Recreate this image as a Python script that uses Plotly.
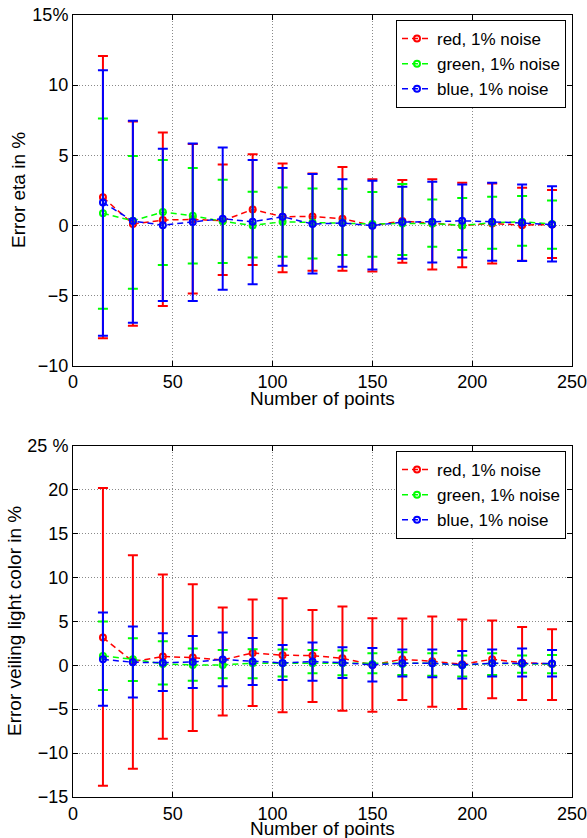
import plotly.graph_objects as go

x_pts = [15, 30, 45, 60, 75, 90, 105, 120, 135, 150, 165, 180, 195, 210, 225, 240]

# Top panel: error eta (%)
eta_red_mean = [2.0, 0.1, 0.38, 0.43, 0.33, 1.14, 0.62, 0.64, 0.48, 0.0, 0.31, 0.14, 0.0, 0.14, 0.02, 0.07]
eta_red_up = [12.07, 7.41, 6.63, 5.8, 4.35, 5.08, 4.42, 3.7, 4.16, 3.3, 3.23, 3.3, 3.04, 2.99, 2.68, 2.52]
eta_red_lo = [-8.05, -7.15, -5.75, -4.85, -3.54, -2.83, -3.33, -3.23, -3.23, -3.28, -2.66, -3.14, -2.99, -2.71, -2.52, -2.33]

eta_green_mean = [0.86, 0.33, 0.95, 0.69, 0.29, 0.0, 0.26, 0.2, 0.19, 0.1, 0.14, 0.14, 0.0, 0.19, 0.26, 0.1]
eta_green_up = [7.62, 4.94, 4.66, 4.09, 3.25, 2.4, 2.7, 2.64, 2.61, 2.38, 2.95, 1.85, 1.95, 2.04, 2.09, 1.78]
eta_green_lo = [-5.94, -4.51, -2.83, -2.71, -2.68, -2.28, -2.23, -2.35, -2.11, -2.23, -2.11, -1.52, -1.76, -1.66, -1.45, -1.66]

eta_blue_mean = [1.64, 0.31, 0.02, 0.24, 0.48, 0.26, 0.62, 0.1, 0.17, -0.02, 0.24, 0.26, 0.33, 0.26, 0.19, 0.07]
eta_blue_up = [11.07, 7.46, 5.46, 5.84, 5.56, 4.66, 4.1, 3.66, 3.3, 3.18, 2.76, 3.11, 2.92, 3.04, 2.92, 2.8]
eta_blue_lo = [-7.86, -6.94, -5.39, -5.39, -4.58, -4.2, -2.87, -3.42, -2.95, -3.14, -2.38, -2.64, -2.28, -2.52, -2.54, -2.57]

# Bottom panel: error veiling light color (%)
vl_red_mean = [3.15, 0.42, 0.99, 0.87, 0.61, 1.4, 1.14, 1.1, 0.8, 0.04, 0.68, 0.46, 0.11, 0.68, 0.3, 0.15]
vl_red_up = [20.17, 12.53, 10.33, 9.23, 6.57, 7.48, 7.63, 6.3, 6.68, 5.36, 5.32, 5.55, 5.2, 5.09, 4.37, 4.1]
vl_red_lo = [-13.71, -11.77, -8.36, -7.48, -5.73, -4.63, -5.36, -4.18, -5.17, -5.28, -3.95, -4.71, -4.98, -3.76, -3.95, -3.95]

vl_green_mean = [1.06, 0.68, 0.15, 0.04, 0.04, 0.23, 0.23, 0.23, 0.23, 0.15, 0.15, 0.23, 0.0, 0.23, 0.15, 0.15]
vl_green_up = [4.98, 3.08, 2.73, 1.9, 1.75, 1.82, 1.79, 1.75, 1.67, 1.37, 1.48, 1.37, 1.1, 1.37, 1.1, 1.18]
vl_green_lo = [-2.81, -1.79, -2.2, -1.75, -1.48, -1.48, -1.29, -0.91, -1.14, -0.91, -1.1, -1.18, -1.29, -1.1, -0.84, -0.91]

vl_blue_mean = [0.68, 0.34, 0.3, 0.38, 0.65, 0.42, 0.27, 0.42, 0.3, 0.04, 0.23, 0.23, 0.04, 0.23, 0.23, 0.19]
vl_blue_up = [6.0, 4.41, 3.65, 3.34, 3.72, 3.11, 2.32, 2.58, 2.05, 1.97, 1.79, 1.79, 1.63, 1.79, 1.9, 1.75]
vl_blue_lo = [-4.6, -3.68, -2.92, -2.58, -2.39, -2.24, -1.67, -1.75, -1.44, -1.86, -1.29, -1.37, -1.52, -1.29, -1.29, -1.29]

series_names = ["red, 1% noise", "green, 1% noise", "blue, 1% noise"]
colors = ["#FF0000", "#00FF00", "#0000FF"]

top_yticks = [-10, -5, 0, 5, 10, 15]
top_yticktext = ["\u221210", "\u22125", "0", "5", "10", "15%"]
bot_yticks = [-15, -10, -5, 0, 5, 10, 15, 20, 25]
bot_yticktext = ["\u221215", "\u221210", "\u22125", "0", "5", "10", "15", "20", "25 %"]
xticks = [0, 50, 100, 150, 200, 250]

FONT = "Liberation Sans, Arial, sans-serif"
TICK_SIZE = 18
TITLE_SIZE = 19
LEG_SIZE = 17

fig = go.Figure()

def add_series(means, ups, los, xa, ya, legend):
    for name, col, m, u, l in zip(series_names, colors, means, ups, los):
        fig.add_trace(go.Scatter(
            x=x_pts, y=m, name=name, mode="lines+markers",
            line=dict(color=col, width=1.5, dash="6px,4px"),
            marker=dict(symbol="circle-open", size=6, color=col, line=dict(width=2, color=col)),
            error_y=dict(type="data", symmetric=False,
                         array=[a - b for a, b in zip(u, m)],
                         arrayminus=[b - a for a, b in zip(l, m)],
                         color=col, thickness=2, width=5),
            xaxis=xa, yaxis=ya, legend=legend,
        ))

add_series([eta_red_mean, eta_green_mean, eta_blue_mean],
           [eta_red_up, eta_green_up, eta_blue_up],
           [eta_red_lo, eta_green_lo, eta_blue_lo], "x", "y", "legend")
add_series([vl_red_mean, vl_green_mean, vl_blue_mean],
           [vl_red_up, vl_green_up, vl_blue_up],
           [vl_red_lo, vl_green_lo, vl_blue_lo], "x2", "y2", "legend2")

axis_common = dict(
    showline=True, linecolor="black", linewidth=1, mirror="allticks",
    ticks="inside", ticklen=5, tickcolor="black", tickwidth=1,
    showgrid=True, gridcolor="#8a8a8a", griddash="1px,2px", gridwidth=1,
    zeroline=False, tickfont=dict(family=FONT, size=TICK_SIZE, color="black"),
    automargin=False, ticklabeloverflow="allow",
)

# pixel geometry
W, H = 587, 838
ML, MR, MT, MB = 73, 15, 15, 41
PH = H - MT - MB
PW = W - ML - MR

def py(Y):
    return (H - MB - Y) / PH

def px(X):
    return (X - ML) / PW

top_bottom = py(365.7)
bot_top = py(445.7)

fig.update_layout(
    width=W, height=H,
    margin=dict(l=ML, r=MR, t=MT, b=MB),
    paper_bgcolor="white", plot_bgcolor="white",
    font=dict(family=FONT, size=TICK_SIZE, color="black"),
    xaxis=dict(axis_common, domain=[0, 1], range=[0, 250], tickvals=xticks, anchor="y"),
    yaxis=dict(axis_common, domain=[top_bottom, 1], range=[-10, 15], tickvals=top_yticks,
               ticktext=top_yticktext, anchor="x"),
    xaxis2=dict(axis_common, domain=[0, 1], range=[0, 250], tickvals=xticks, anchor="y2"),
    yaxis2=dict(axis_common, domain=[0, bot_top], range=[-15, 25], tickvals=bot_yticks,
                ticktext=bot_yticktext, anchor="x2"),
    legend=dict(x=px(566), y=py(20), xanchor="right", yanchor="top",
                bgcolor="white", bordercolor="black", borderwidth=1,
                font=dict(family=FONT, size=LEG_SIZE), tracegroupgap=0),
    legend2=dict(x=px(566), y=py(451), xanchor="right", yanchor="top",
                 bgcolor="white", bordercolor="black", borderwidth=1,
                 font=dict(family=FONT, size=LEG_SIZE), tracegroupgap=0),
    showlegend=True,
)

title_font = dict(family=FONT, size=TITLE_SIZE, color="black")
annots = [
    dict(text="Number of points", x=0.5, y=py(386), xanchor="center", yanchor="top"),
    dict(text="Number of points", x=0.5, y=py(816), xanchor="center", yanchor="top"),
    dict(text="Error eta in %", x=px(18), y=py(190), xanchor="center", yanchor="middle", textangle=-90),
    dict(text="Error veiling light color in %", x=px(14), y=py(621), xanchor="center",
         yanchor="middle", textangle=-90),
]
for a in annots:
    fig.add_annotation(xref="paper", yref="paper", showarrow=False, font=title_font, **a)

fig.write_html("out.html", config={"displayModeBar": False},
               post_script="document.body.style.margin='0px';document.body.style.overflow='hidden';")
